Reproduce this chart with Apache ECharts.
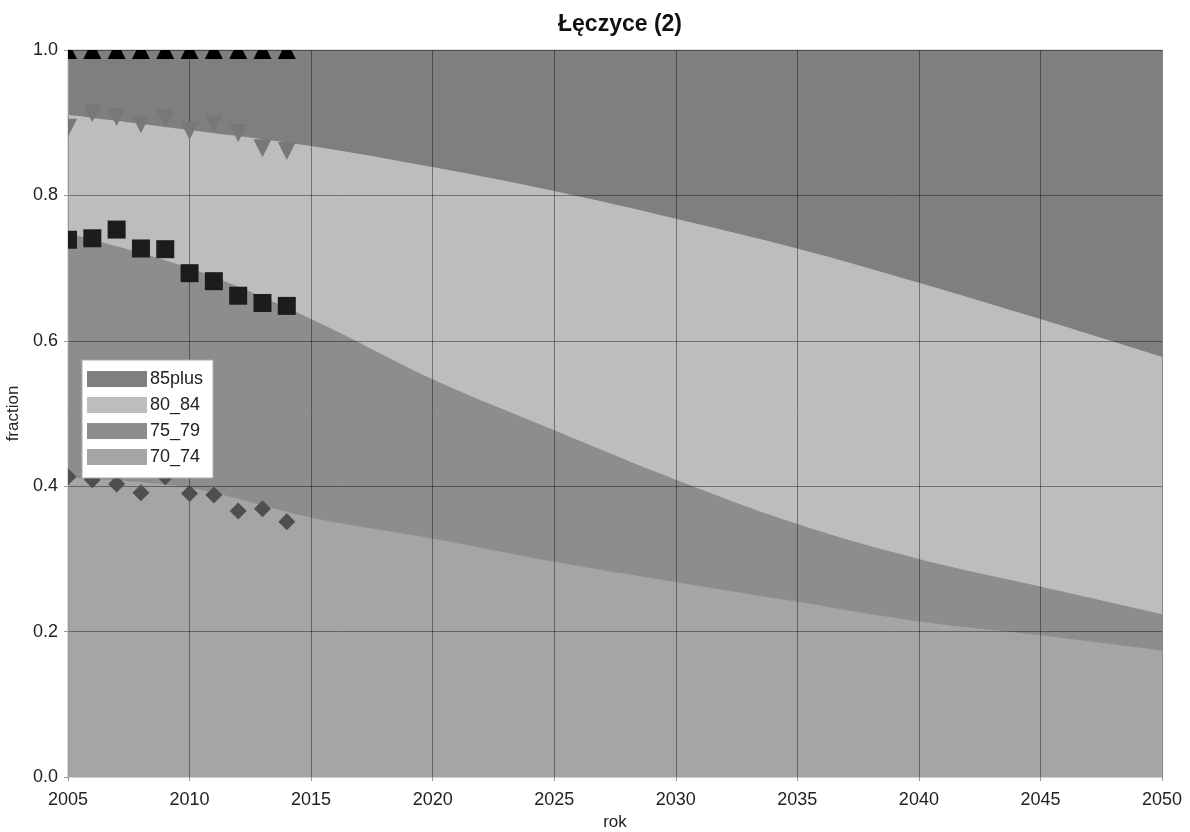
<!DOCTYPE html>
<html>
<head>
<meta charset="utf-8">
<script src="https://cdn.jsdelivr.net/npm/echarts@6/dist/echarts.min.js"></script>
<style>
html,body{margin:0;padding:0;background:#fff;}
#chart{width:1190px;height:832px;}
</style>
</head>
<body>
<div id="chart"></div>
<script>
// Projection years (cumulative boundaries of the stacked fractions)
const years = [2005, 2010, 2015, 2020, 2025, 2030, 2035, 2040, 2045, 2050];
const cum85plus = [1, 1, 1, 1, 1, 1, 1, 1, 1, 1];
const cum80_84 = [0.911, 0.890, 0.868, 0.839, 0.806, 0.768, 0.727, 0.680, 0.630, 0.578];
const cum75_79 = [0.748, 0.700, 0.630, 0.547, 0.477, 0.409, 0.348, 0.300, 0.262, 0.224];
const cum70_74 = [0.412, 0.398, 0.357, 0.328, 0.296, 0.268, 0.241, 0.214, 0.195, 0.174];

// Observed years (markers)
const obsYears = [2005, 2006, 2007, 2008, 2009, 2010, 2011, 2012, 2013, 2014];
const obs85plus = [1, 1, 1, 1, 1, 1, 1, 1, 1, 1];
const obs80_84 = [0.893, 0.913, 0.908, 0.898, 0.906, 0.889, 0.898, 0.886, 0.865, 0.861];
const obs75_79 = [0.739, 0.741, 0.753, 0.727, 0.726, 0.693, 0.682, 0.662, 0.652, 0.648];
const obs70_74 = [0.413, 0.409, 0.403, 0.391, 0.413, 0.390, 0.388, 0.366, 0.369, 0.351];

const groupNames = ['85plus', '80_84', '75_79', '70_74'];

const FONT = '"Liberation Sans", Arial, sans-serif';

function areaSeries(name, vals, color) {
  return {
    type: 'line', name: name,
    data: years.map((y, i) => [y, vals[i]]),
    smooth: 0.35, showSymbol: false, symbol: 'none',
    lineStyle: { width: 0, color: color },
    itemStyle: { color: color },
    areaStyle: { color: color, opacity: 1, origin: 'start' },
    z: 2, silent: true
  };
}

function markerSeries(name, vals, shape, color, size) {
  return {
    type: 'custom', name: name, z: 20, clip: true, silent: true,
    data: obsYears.map((y, i) => [y, vals[i]]),
    renderItem: function (params, api) {
      const p = api.coord([api.value(0), api.value(1)]);
      const h = size / 2;
      if (shape === 'square') {
        return { type: 'rect', shape: { x: p[0] - h, y: p[1] - h, width: size, height: size }, style: { fill: color } };
      }
      let pts;
      if (shape === 'diamond') pts = [[p[0], p[1] - h], [p[0] + h, p[1]], [p[0], p[1] + h], [p[0] - h, p[1]]];
      else if (shape === 'up') pts = [[p[0], p[1] - h], [p[0] + h, p[1] + h], [p[0] - h, p[1] + h]];
      else pts = [[p[0] - h, p[1] - h], [p[0] + h, p[1] - h], [p[0], p[1] + h]];
      return { type: 'polygon', shape: { points: pts }, style: { fill: color } };
    }
  };
}

const chart = echarts.init(document.getElementById('chart'), null, { renderer: 'canvas' });
chart.setOption({
  animation: false,
  backgroundColor: '#ffffff',
  title: {
    text: 'Łęczyce (2)', left: 615, top: 8, textAlign: 'center',
    textStyle: { fontFamily: FONT, fontSize: 23, fontWeight: 'bold', color: '#111' }
  },
  grid: {
    left: 68, right: 28, top: 50, bottom: 55, containLabel: false, outerBoundsMode: 'none',
    show: true, borderColor: '#bbb', borderWidth: 1, backgroundColor: 'transparent'
  },
  legend: {
    data: groupNames.map(n => ({ name: n, icon: 'rect' })),
    orient: 'vertical', left: 82, top: 360,
    itemWidth: 60, itemHeight: 16, itemGap: 8,
    padding: [10, 10, 12, 5],
    backgroundColor: '#ffffff', borderColor: '#aaa', borderWidth: 1,
    textStyle: { fontFamily: FONT, fontSize: 18, lineHeight: 16, color: '#222', padding: [0, 0, 0, -2] },
    selectedMode: false, z: 30
  },
  xAxis: {
    type: 'value', min: 2005, max: 2050, interval: 5, z: 10,
    name: 'rok', nameLocation: 'middle', nameGap: 36,
    nameTextStyle: { fontFamily: FONT, fontSize: 17, color: '#222' },
    axisLine: { show: true, lineStyle: { color: '#cfcfcf', width: 1 } },
    axisTick: { show: true, length: 4, lineStyle: { color: '#999' } },
    axisLabel: { fontFamily: FONT, fontSize: 18, color: '#222', margin: 14, formatter: v => String(v) },
    splitLine: { show: true, lineStyle: { color: 'rgba(0,0,0,0.4)', width: 1 } }
  },
  yAxis: {
    type: 'value', min: 0, max: 1, interval: 0.2, z: 10,
    name: 'fraction', nameLocation: 'middle', nameGap: 44, nameRotate: 90,
    nameTextStyle: { fontFamily: FONT, fontSize: 17, color: '#222' },
    axisLine: { show: true, lineStyle: { color: '#999', width: 1 } },
    axisTick: { show: true, length: 4, lineStyle: { color: '#999' } },
    axisLabel: { fontFamily: FONT, fontSize: 18, color: '#222', margin: 10, formatter: v => v.toFixed(1) },
    splitLine: { show: true, lineStyle: { color: 'rgba(0,0,0,0.4)', width: 1 } }
  },
  series: [
    areaSeries('85plus', cum85plus, '#7f7f7f'),
    areaSeries('80_84', cum80_84, '#bdbdbd'),
    areaSeries('75_79', cum75_79, '#8d8d8d'),
    areaSeries('70_74', cum70_74, '#a5a5a5'),
    markerSeries('obs 70_74', obs70_74, 'diamond', '#4f4f4f', 17),
    markerSeries('obs 75_79', obs75_79, 'square', '#1c1c1c', 18),
    markerSeries('obs 80_84', obs80_84, 'down', '#787878', 18),
    markerSeries('obs 85plus', obs85plus, 'up', '#000000', 18)
  ]
});
</script>
</body>
</html>
